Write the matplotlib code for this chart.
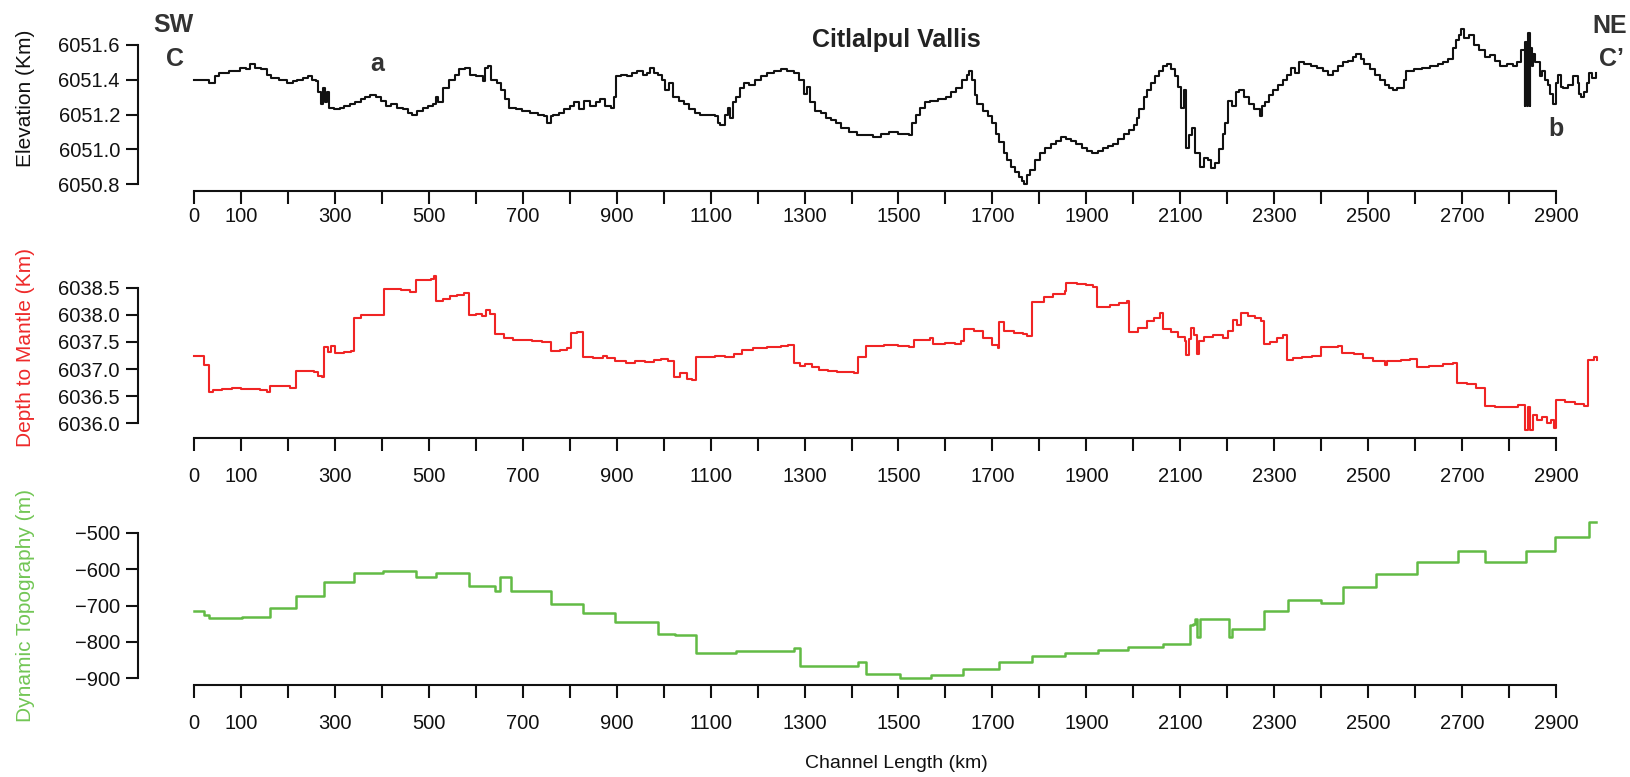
"""
Channel profile along Citlalpul Vallis: elevation, depth to mantle and
dynamic topography plotted against distance along the channel.
"""
import matplotlib
matplotlib.use("Agg")
import matplotlib.pyplot as plt

plt.rcParams["font.family"] = ["Liberation Sans", "DejaVu Sans"]

# -------------------------------------------------------------------------------------------------
# Profile data (km along channel)
# -------------------------------------------------------------------------------------------------

elev_km = [
    0, 20, 31, 45, 53, 75, 98, 110, 120, 130, 142, 155, 165, 180, 198, 210, 220, 232, 243, 252,
    259, 265, 270, 274, 278, 283, 288, 298, 310, 320, 332, 343, 355, 365, 375, 387, 398, 409, 420,
    432, 445, 455, 465, 475, 487, 498, 509, 515, 520, 530, 543, 555, 565, 576, 587, 600, 615, 620,
    626, 632, 645, 654, 662, 671, 685, 699, 715, 732, 745, 752, 760, 765, 778, 788, 800, 810, 820,
    830, 843, 855, 865, 875, 888, 895, 899, 910, 921, 932, 943, 955, 965, 971, 980, 988, 996, 1003,
    1012, 1020, 1032, 1043, 1054, 1066, 1077, 1093, 1110, 1115, 1121, 1130, 1138, 1142, 1148, 1155,
    1163, 1171, 1182, 1194, 1208, 1221, 1235, 1249, 1262, 1277, 1288, 1299, 1305, 1312, 1323, 1334,
    1345, 1356, 1367, 1378, 1395, 1412, 1430, 1445, 1462, 1479, 1500, 1523, 1529, 1537, 1545, 1556,
    1568, 1585, 1601, 1612, 1623, 1635, 1646, 1651, 1657, 1662, 1668, 1680, 1690, 1700, 1707, 1715,
    1724, 1732, 1740, 1748, 1757, 1763, 1768, 1774, 1779, 1790, 1801, 1812, 1824, 1835, 1846, 1857,
    1868, 1879, 1890, 1902, 1913, 1924, 1935, 1946, 1957, 1968, 1980, 1991, 2002, 2008, 2013, 2022,
    2030, 2038, 2046, 2055, 2063, 2072, 2080, 2088, 2096, 2102, 2108, 2113, 2118, 2124, 2132, 2141,
    2150, 2158, 2166, 2174, 2182, 2191, 2196, 2202, 2210, 2218, 2225, 2236, 2247, 2258, 2269, 2275,
    2280, 2289, 2297, 2308, 2319, 2328, 2336, 2345, 2352, 2364, 2378, 2392, 2403, 2414, 2425, 2436,
    2447, 2458, 2467, 2475, 2484, 2492, 2503, 2514, 2525, 2536, 2545, 2553, 2562, 2570, 2576, 2581,
    2597, 2614, 2631, 2648, 2660, 2670, 2680, 2687, 2693, 2698, 2705, 2714, 2725, 2737, 2748, 2759,
    2770, 2781, 2795, 2809, 2818, 2826, 2834, 2834.5, 2839, 2839.5, 2845, 2845.5, 2849, 2851, 2855,
    2859, 2865, 2870, 2876, 2882, 2888, 2893, 2899, 2904, 2910, 2915, 2925, 2937, 2946, 2950, 2954,
    2960, 2966, 2971, 2977, 2985,
]
elev_val = [
    6051.40, 6051.40, 6051.38, 6051.42, 6051.44, 6051.45, 6051.47, 6051.46, 6051.49, 6051.47,
    6051.46, 6051.43, 6051.41, 6051.40, 6051.38, 6051.39, 6051.40, 6051.41, 6051.42, 6051.40,
    6051.39, 6051.33, 6051.26, 6051.35, 6051.27, 6051.33, 6051.24, 6051.23, 6051.24, 6051.25,
    6051.26, 6051.27, 6051.29, 6051.30, 6051.31, 6051.30, 6051.28, 6051.25, 6051.26, 6051.24,
    6051.23, 6051.21, 6051.20, 6051.22, 6051.24, 6051.25, 6051.26, 6051.30, 6051.27, 6051.35,
    6051.40, 6051.43, 6051.46, 6051.47, 6051.43, 6051.42, 6051.39, 6051.47, 6051.48, 6051.40,
    6051.38, 6051.34, 6051.29, 6051.24, 6051.23, 6051.22, 6051.21, 6051.20, 6051.19, 6051.15,
    6051.19, 6051.20, 6051.21, 6051.23, 6051.25, 6051.27, 6051.23, 6051.28, 6051.25, 6051.27,
    6051.29, 6051.25, 6051.24, 6051.30, 6051.42, 6051.43, 6051.42, 6051.44, 6051.45, 6051.43,
    6051.44, 6051.47, 6051.44, 6051.43, 6051.40, 6051.34, 6051.38, 6051.30, 6051.28, 6051.26,
    6051.23, 6051.21, 6051.20, 6051.20, 6051.19, 6051.15, 6051.14, 6051.20, 6051.24, 6051.18,
    6051.27, 6051.30, 6051.35, 6051.38, 6051.37, 6051.40, 6051.42, 6051.44, 6051.45, 6051.46,
    6051.45, 6051.44, 6051.40, 6051.32, 6051.36, 6051.27, 6051.22, 6051.21, 6051.18, 6051.17,
    6051.15, 6051.12, 6051.10, 6051.08, 6051.08, 6051.07, 6051.09, 6051.10, 6051.09, 6051.08,
    6051.15, 6051.20, 6051.24, 6051.27, 6051.28, 6051.29, 6051.30, 6051.33, 6051.35, 6051.40,
    6051.43, 6051.45, 6051.40, 6051.31, 6051.26, 6051.22, 6051.19, 6051.15, 6051.09, 6051.04,
    6050.98, 6050.94, 6050.90, 6050.87, 6050.84, 6050.82, 6050.80, 6050.85, 6050.88, 6050.94,
    6050.98, 6051.01, 6051.03, 6051.05, 6051.07, 6051.06, 6051.05, 6051.03, 6051.01, 6050.99,
    6050.98, 6050.99, 6051.01, 6051.02, 6051.03, 6051.06, 6051.09, 6051.11, 6051.14, 6051.18,
    6051.23, 6051.30, 6051.34, 6051.38, 6051.42, 6051.45, 6051.48, 6051.49, 6051.46, 6051.42,
    6051.36, 6051.24, 6051.34, 6051.01, 6051.08, 6051.12, 6050.98, 6050.90, 6050.95, 6050.94,
    6050.89, 6050.92, 6051.00, 6051.09, 6051.15, 6051.28, 6051.25, 6051.33, 6051.34, 6051.30,
    6051.26, 6051.23, 6051.19, 6051.25, 6051.27, 6051.31, 6051.34, 6051.37, 6051.40, 6051.43,
    6051.47, 6051.44, 6051.50, 6051.49, 6051.48, 6051.47, 6051.45, 6051.43, 6051.45, 6051.48,
    6051.50, 6051.51, 6051.53, 6051.55, 6051.52, 6051.49, 6051.46, 6051.43, 6051.40, 6051.37,
    6051.35, 6051.34, 6051.35, 6051.35, 6051.40, 6051.45, 6051.46, 6051.47, 6051.48, 6051.49,
    6051.50, 6051.52, 6051.58, 6051.63, 6051.66, 6051.69, 6051.64, 6051.66, 6051.60, 6051.57,
    6051.53, 6051.54, 6051.51, 6051.48, 6051.49, 6051.48, 6051.50, 6051.57, 6051.25, 6051.62,
    6051.25, 6051.67, 6051.25, 6051.58, 6051.48, 6051.55, 6051.50, 6051.50, 6051.42, 6051.45,
    6051.40, 6051.37, 6051.32, 6051.26, 6051.38, 6051.43, 6051.36, 6051.35, 6051.37, 6051.42,
    6051.38, 6051.32, 6051.30, 6051.33, 6051.38, 6051.44, 6051.41, 6051.44,
]

mantle_km = [
    0, 22, 31, 40, 60, 80, 100, 120, 140, 155, 161, 185, 205, 218, 240, 255, 265, 272, 276, 285,
    292, 300, 320, 335, 340, 355, 380, 395, 404, 420, 440, 460, 473, 490, 505, 512, 516, 530, 545,
    560, 575, 585, 600, 614, 622, 630, 641, 660, 680, 700, 720, 740, 760, 780, 795, 802, 815, 828,
    850, 870, 880, 897, 920, 940, 960, 980, 995, 1010, 1021, 1035, 1050, 1060, 1068, 1090, 1110,
    1130, 1150, 1166, 1190, 1220, 1250, 1265, 1277, 1290, 1300, 1315, 1330, 1350, 1370, 1390, 1405,
    1414, 1431, 1470, 1500, 1523, 1534, 1567, 1573, 1600, 1620, 1634, 1640, 1660, 1680, 1700, 1712,
    1714, 1725, 1745, 1765, 1774, 1785, 1810, 1830, 1855, 1857, 1880, 1900, 1915, 1922, 1950, 1970,
    1987, 1990, 2010, 2030, 2045, 2057, 2063, 2080, 2095, 2110, 2113, 2118, 2122, 2130, 2135, 2140,
    2150, 2170, 2190, 2202, 2213, 2220, 2230, 2245, 2260, 2272, 2278, 2290, 2305, 2319, 2327, 2340,
    2360, 2380, 2400, 2420, 2435, 2445, 2470, 2490, 2510, 2536, 2540, 2570, 2590, 2603, 2630, 2660,
    2680, 2690, 2710, 2730, 2748, 2770, 2800, 2820, 2835, 2840, 2845, 2850, 2860, 2870, 2880, 2890,
    2896, 2901, 2920, 2940, 2959, 2968, 2980, 2987,
]
mantle_val = [
    6037.25, 6037.08, 6036.57, 6036.62, 6036.63, 6036.65, 6036.64, 6036.63, 6036.61, 6036.58,
    6036.69, 6036.68, 6036.66, 6036.96, 6036.97, 6036.94, 6036.88, 6036.85, 6037.40, 6037.32,
    6037.42, 6037.30, 6037.31, 6037.33, 6037.95, 6037.99, 6038.00, 6037.99, 6038.48, 6038.47,
    6038.45, 6038.42, 6038.64, 6038.65, 6038.66, 6038.72, 6038.25, 6038.30, 6038.34, 6038.37,
    6038.40, 6037.99, 6038.01, 6037.98, 6038.08, 6038.02, 6037.65, 6037.57, 6037.54, 6037.53,
    6037.52, 6037.50, 6037.33, 6037.36, 6037.38, 6037.67, 6037.69, 6037.23, 6037.20, 6037.25,
    6037.20, 6037.14, 6037.12, 6037.15, 6037.13, 6037.16, 6037.18, 6037.14, 6036.86, 6036.92,
    6036.82, 6036.79, 6037.23, 6037.22, 6037.24, 6037.22, 6037.28, 6037.35, 6037.38, 6037.40,
    6037.42, 6037.44, 6037.11, 6037.05, 6037.10, 6037.03, 6036.98, 6036.97, 6036.95, 6036.94,
    6036.92, 6037.23, 6037.42, 6037.44, 6037.42, 6037.40, 6037.54, 6037.57, 6037.46, 6037.48,
    6037.47, 6037.52, 6037.73, 6037.70, 6037.58, 6037.45, 6037.38, 6037.87, 6037.70, 6037.66,
    6037.64, 6037.61, 6038.24, 6038.33, 6038.38, 6038.43, 6038.59, 6038.57, 6038.55, 6038.52,
    6038.15, 6038.18, 6038.22, 6038.26, 6037.69, 6037.75, 6037.88, 6037.95, 6038.03, 6037.73,
    6037.68, 6037.60, 6037.52, 6037.26, 6037.55, 6037.75, 6037.62, 6037.28, 6037.52, 6037.60,
    6037.63, 6037.58, 6037.70, 6037.90, 6037.82, 6038.03, 6037.98, 6037.94, 6037.88, 6037.47,
    6037.50, 6037.57, 6037.62, 6037.17, 6037.20, 6037.23, 6037.25, 6037.41, 6037.40, 6037.43,
    6037.30, 6037.27, 6037.20, 6037.15, 6037.08, 6037.15, 6037.16, 6037.18, 6037.04, 6037.06,
    6037.09, 6037.12, 6036.74, 6036.72, 6036.66, 6036.31, 6036.30, 6036.30, 6036.33, 6035.87,
    6036.30, 6035.87, 6036.15, 6036.07, 6036.12, 6036.00, 6036.06, 6035.92, 6036.43, 6036.40,
    6036.35, 6036.31, 6037.17, 6037.22, 6037.17,
]

dyn_km = [
    0, 22, 33, 103, 161, 218, 277, 340, 402, 473, 516, 585, 641, 652, 674, 760, 828, 897, 988,
    1024, 1068, 1155, 1277, 1291, 1414, 1431, 1503, 1570, 1637, 1715, 1785, 1855, 1924, 1988, 2063,
    2121, 2128, 2132, 2135, 2142, 2204, 2211, 2278, 2330, 2400, 2447, 2517, 2603, 2691, 2748, 2837,
    2897, 2970, 2985,
]
dyn_val = [
    -714, -725, -735, -732, -708, -673, -636, -610, -604, -622, -611, -646, -660, -620, -660, -695,
    -722, -746, -778, -781, -830, -825, -817, -868, -857, -889, -901, -893, -876, -857, -840, -830,
    -822, -814, -805, -755, -751, -737, -788, -737, -788, -766, -714, -686, -693, -650, -614, -581,
    -549, -581, -549, -512, -470, -470,
]

x_ticks = list(range(0, 3000, 100))
x_labels = [str(t) if (t == 0 or (t // 100) % 2 == 1) else "" for t in x_ticks]

# -------------------------------------------------------------------------------------------------
# Figure layout (pixel based)
# -------------------------------------------------------------------------------------------------

W, H = 1631, 777
fig = plt.figure(figsize=(W / 100, H / 100), dpi=100)

X0_PX, X2900_PX = 194, 1556
LEFT_PX, RIGHT_PX = 138, 1612
sx = (X2900_PX - X0_PX) / 2900.0


def make_panel(top_px, bottom_px, y_lo, y_hi, y_lo_px, y_hi_px, y_step, xpad):
    ax = fig.add_axes([LEFT_PX / W, 1 - bottom_px / H, (RIGHT_PX - LEFT_PX) / W,
                       (bottom_px - top_px) / H])
    sy = (y_lo_px - y_hi_px) / (y_hi - y_lo)
    ax.set_ylim(y_lo - (bottom_px - y_lo_px) / sy, y_hi + (y_hi_px - top_px) / sy)
    ax.set_xlim(-(X0_PX - LEFT_PX) / sx, (RIGHT_PX - X0_PX) / sx)

    for side in ("top", "right"):
        ax.spines[side].set_visible(False)
    ax.spines["left"].set_bounds(y_lo, y_hi)
    ax.spines["bottom"].set_bounds(0, 2900)
    for side in ("left", "bottom"):
        ax.spines[side].set_linewidth(1.5)
        ax.spines[side].set_color("#111111")

    n = int(round((y_hi - y_lo) / y_step))
    yt = [y_lo + i * y_step for i in range(n + 1)]
    ax.set_yticks(yt)
    ax.set_xticks(x_ticks)
    ax.set_xticklabels(x_labels)
    ax.tick_params(axis="both", direction="out", length=9, width=1.5, colors="#111111",
                   labelsize=14.5, labelcolor="#111111")
    ax.tick_params(axis="x", pad=xpad)
    ax.tick_params(axis="y", pad=4)
    ax.patch.set_alpha(0)
    return ax


ax1 = make_panel(20, 191, 6050.8, 6051.6, 184, 45, 0.2, 2.5)
ax1.yaxis.set_major_formatter(plt.FormatStrFormatter("%.1f"))
ax1.plot(elev_km, elev_val, color="#111111", lw=1.5, drawstyle="steps-post", clip_on=False)

ax2 = make_panel(255, 438, 6036.0, 6038.5, 423.3, 287.7, 0.5, 12)
ax2.yaxis.set_major_formatter(plt.FormatStrFormatter("%.1f"))
ax2.plot(mantle_km, mantle_val, color="#f02424", lw=1.5, drawstyle="steps-post", clip_on=False)

ax3 = make_panel(500, 685, -900, -500, 678, 533, 100, 12)
ax3.yaxis.set_major_formatter(plt.FuncFormatter(lambda v, p: f"{v:.0f}".replace("-", "\u2212")))
ax3.plot(dyn_km, dyn_val, color="#62bb45", lw=1.8, drawstyle="steps-post", clip_on=False)

# -------------------------------------------------------------------------------------------------
# Labels and annotations
# -------------------------------------------------------------------------------------------------


def fig_text(x_px, y_px, s, **kw):
    fig.text(x_px / W, 1 - y_px / H, s, ha="center", va="center", **kw)


fig_text(26, 98, "Elevation (Km)", rotation=90, fontsize=15, color="#111111")
fig_text(26, 347, "Depth to Mantle (Km)", rotation=90, fontsize=15, color="#ee2a2a")
fig_text(26, 605, "Dynamic Topography (m)", rotation=90, fontsize=15, color="#72c655")
fig_text(896, 763, "Channel Length (km)", fontsize=14, color="#111111")

fig_text(896, 40, "Citlalpul Vallis", fontsize=18, fontweight="bold", color="#222222")
fig_text(173, 25, "SW", fontsize=18, fontweight="bold", color="#333333")
fig_text(175, 59, "C", fontsize=18, fontweight="bold", color="#333333")
fig_text(377, 64, "a", fontsize=18, fontweight="bold", color="#333333")
fig_text(1610, 26, "NE", fontsize=18, fontweight="bold", color="#333333")
fig_text(1612, 59, "C\u2019", fontsize=18, fontweight="bold", color="#333333")
fig_text(1556, 129, "b", fontsize=18, fontweight="bold", color="#333333")

fig.savefig("out.png", dpi=100)
